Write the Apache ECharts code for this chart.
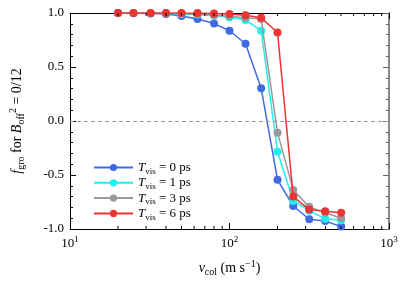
<!DOCTYPE html>
<html>
<head>
<meta charset="utf-8">
<script src="https://cdn.jsdelivr.net/npm/echarts@6/dist/echarts.min.js"></script>
<style>html,body{margin:0;padding:0;background:#fff}#c{width:415px;height:290px}</style>
</head>
<body>
<div id="c"></div>
<script>
var vcol = [20, 25, 32, 40, 50, 63, 80, 100, 126, 158, 200, 251, 316, 398, 501];
var fT0 = [1.0, 0.998, 0.995, 0.99, 0.973, 0.944, 0.902, 0.836, 0.715, 0.303, -0.545, -0.787, -0.91, -0.926, -0.978];
var fT1 = [1.0, 1.0, 1.0, 0.998, 0.99, 0.985, 0.975, 0.96, 0.935, 0.836, -0.284, -0.74, -0.83, -0.905, -0.92];
var fT3 = [1.0, 1.0, 1.0, 1.0, 0.995, 0.99, 0.98, 0.97, 0.955, 0.944, -0.108, -0.64, -0.795, -0.85, -0.90];
var fT6 = [1.0, 1.0, 1.0, 1.0, 1.0, 1.0, 0.995, 0.99, 0.98, 0.955, 0.82, -0.70, -0.82, -0.835, -0.85];
var seriesNames = ['0', '1', '3', '6'];
var seriesColors = ['#4169e1', '#22eeee', '#999999', '#ee3333'];
var seriesData = [fT0, fT1, fT3, fT6];
var logMinorTicks = [20, 30, 40, 50, 60, 70, 80, 90, 200, 300, 400, 500, 600, 700, 800, 900];

var FONT = "'Liberation Serif', 'Times New Roman', serif";
var chart = echarts.init(document.getElementById('c'), null, {renderer: 'canvas'});

function pairs(ys) { return vcol.map(function (x, i) { return [x, ys[i]]; }); }

var series = seriesData.map(function (d, i) {
  var s = {
    name: seriesNames[i],
    type: 'line',
    data: pairs(d),
    symbol: 'circle',
    symbolSize: 8,
    color: seriesColors[i],
    lineStyle: {width: 1.5, color: seriesColors[i]},
    itemStyle: {color: seriesColors[i]},
    z: 3 + i,
    animation: false
  };
  if (i === 0) {
    s.markLine = {
      silent: true, symbol: 'none', label: {show: false},
      lineStyle: {type: [4, 3], color: '#999', width: 1},
      data: [{yAxis: 0}], animation: false
    };
  }
  return s;
});

series.push({
  type: 'custom',
  name: 'minor',
  silent: true,
  animation: false,
  data: logMinorTicks.map(function (v) { return [v]; }),
  encode: {x: 0},
  renderItem: function (params, api) {
    var v = api.value(0);
    var b = api.coord([v, -1]);
    var t = api.coord([v, 1]);
    return {
      type: 'group',
      children: [
        {type: 'line', shape: {x1: b[0], y1: b[1], x2: b[0], y2: b[1] - 3}, style: {stroke: '#000', lineWidth: 1}},
        {type: 'line', shape: {x1: t[0], y1: t[1], x2: t[0], y2: t[1] + 3}, style: {stroke: '#000', lineWidth: 1}}
      ]
    };
  },
  z: 10
});

var richText = {
  m: {fontFamily: FONT, fontSize: 13, color: '#000', lineHeight: 17},
  i: {fontFamily: FONT, fontSize: 13, fontStyle: 'italic', color: '#000', lineHeight: 17},
  s: {fontFamily: FONT, fontSize: 9, color: '#000', lineHeight: 9, verticalAlign: 'bottom'},
  sup: {fontFamily: FONT, fontSize: 9, color: '#000', lineHeight: 9, verticalAlign: 'top'}
};
var richName = {
  m: {fontFamily: FONT, fontSize: 14, color: '#000', lineHeight: 18},
  i: {fontFamily: FONT, fontSize: 14, fontStyle: 'italic', color: '#000', lineHeight: 18},
  s: {fontFamily: FONT, fontSize: 10, color: '#000', lineHeight: 10, verticalAlign: 'bottom'},
  sup: {fontFamily: FONT, fontSize: 10, color: '#000', lineHeight: 10, verticalAlign: 'top'}
};

chart.setOption({
  backgroundColor: '#fff',
  animation: false,
  grid: {left: 70, right: 26, top: 13, bottom: 61},
  legend: {
    data: seriesNames,
    left: 88, top: 156, orient: 'vertical',
    itemWidth: 39, itemHeight: 9, itemGap: 0.3,
    formatter: function (n) { return '{i|T}{s|vis}{m| = ' + n + ' ps}'; },
    textStyle: {rich: richText, fontFamily: FONT, fontSize: 13}
  },
  xAxis: [{
    type: 'log', logBase: 10, min: 10, max: 1000, position: 'bottom',
    axisLine: {onZero: false, lineStyle: {color: '#000', width: 1}},
    axisTick: {inside: true, length: 6, lineStyle: {color: '#000'}},
    splitLine: {show: false},
    axisLabel: {
      margin: 6,
      formatter: function (v) { return '{m|10}{sup|' + Math.round(Math.log10(v)) + '}'; },
      rich: richText
    },
    name: '{i|v}{s|col}{m| (m s}{sup|−1}{m|)}',
    nameLocation: 'middle', nameGap: 30,
    nameTextStyle: {rich: richName}
  }, {
    type: 'log', logBase: 10, min: 10, max: 1000, position: 'top',
    axisLine: {onZero: false, lineStyle: {color: '#000', width: 1}},
    axisTick: {inside: true, length: 6, lineStyle: {color: '#000'}},
    axisLabel: {show: false}, splitLine: {show: false}
  }],
  yAxis: [{
    type: 'value', min: -1, max: 1, interval: 0.5, position: 'left',
    axisLine: {show: true, onZero: false, lineStyle: {color: '#000', width: 1}},
    axisTick: {show: true, inside: true, length: 6, lineStyle: {color: '#000'}},
    minorTick: {show: true, splitNumber: 5, length: 3, lineStyle: {color: '#000'}},
    splitLine: {show: false},
    axisLabel: {
      margin: 6, fontFamily: FONT, fontSize: 13, color: '#000',
      formatter: function (v) { return v.toFixed(1); }
    },
    name: '{i|f}{s|gro}{m| for }{i|B}{s|off}{sup|2}{m| = 0/12}',
    nameLocation: 'middle', nameGap: 44, nameRotate: 90,
    nameTextStyle: {rich: richName}
  }, {
    type: 'value', min: -1, max: 1, interval: 0.5, position: 'right',
    axisLine: {show: true, onZero: false, lineStyle: {color: '#666', width: 1.5}},
    axisTick: {show: true, inside: true, length: 6, lineStyle: {color: '#666'}},
    minorTick: {show: true, splitNumber: 5, length: 3, lineStyle: {color: '#666'}},
    splitLine: {show: false},
    axisLabel: {show: false}
  }],
  series: series
});
</script>
</body>
</html>
